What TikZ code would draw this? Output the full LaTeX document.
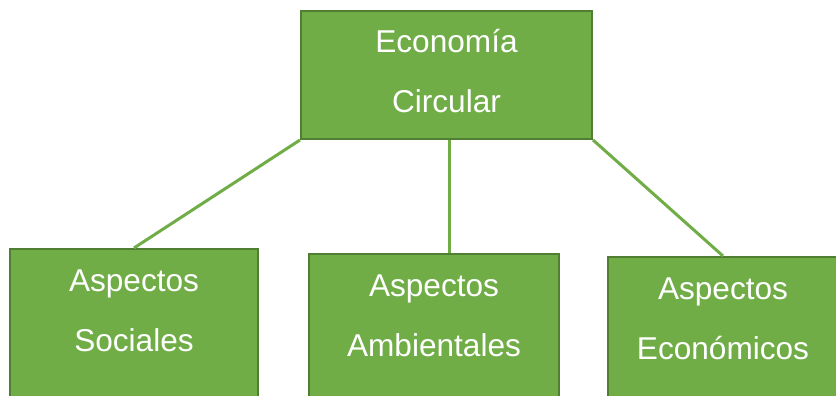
\documentclass[tikz,border=0pt]{standalone}
\usepackage{fontspec}
\setmainfont{Liberation Sans}
\usetikzlibrary{positioning}
\definecolor{boxfill}{HTML}{70AD47}
\definecolor{boxedge}{HTML}{507E32}
\tikzset{
  topicbox/.style={
    rectangle,
    anchor=north,
    align = center,
    draw=boxedge,
    fill=boxfill,
    line width = 2pt,
    text=white,
    inner ysep=0pt,
    text height=102pt,
    font=\fontsize{31.6}{60}\selectfont,
  },
  link/.style={
    line width = 3pt,
    draw=boxfill,
    },
}
\begin{document}
\begin{tikzpicture}[x=1pt,y=-1pt]
    \useasboundingbox (0,0) rectangle (836,396);
    \clip (0,0) rectangle (836,396);
    \node (eco) [topicbox, minimum width=291pt, text depth=26pt] at (446.5,10) {Economía\\Circular};
    \node (soc) [topicbox, minimum width=248pt, text depth=60pt] at (134,248) {Aspectos\\Sociales};
    \node (amb) [topicbox, minimum width=250pt, text depth=60pt] at (434,253) {Aspectos\\Ambientales};
    \node (eca) [topicbox, minimum width=230pt, text depth=60pt] at (723,256) {Aspectos\\Económicos};
    \coordinate (mid) at ([xshift=2.5pt]eco.south);
    \draw [link] (eco.south west) -- (soc.north);
    \draw [link] (mid) -- (mid |- amb.north);
    \draw [link] (eco.south east) -- (eca.north);
  \end{tikzpicture}
\end{document}
